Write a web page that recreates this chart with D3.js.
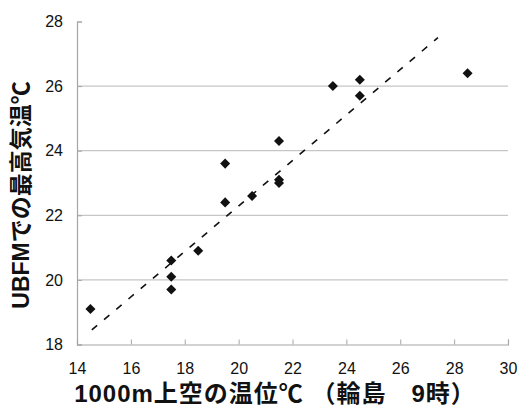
<!DOCTYPE html>
<html>
<head>
<meta charset="utf-8">
<script src="https://cdn.jsdelivr.net/npm/d3@7"></script>
<style>
  body { margin: 0; background: #fff; }
</style>
</head>
<body>
<div id="chart"></div>
<script>
// 1000m上空の温位 (輪島 9時)
const potentialTemp = [14.5, 17.5, 17.5, 17.5, 18.5, 19.5, 19.5, 20.5, 21.5, 21.5, 21.5, 23.5, 24.5, 24.5, 28.5]
// UBFMでの最高気温
const maxTemp = [19.1, 20.6, 20.1, 19.7, 20.9, 23.6, 22.4, 22.6, 24.3, 23.1, 23.0, 26.0, 26.2, 25.7, 26.4]
// 近似直線の端点
const trendX = [14.55, 27.4]
const trendY = [18.45, 27.5]
// 目盛り
const xTicks = [14, 16, 18, 20, 22, 24, 26, 28, 30]
const yTicks = [18, 20, 22, 24, 26, 28]

const width = 518
const height = 412
const margin = { top: 21.5, right: 10, bottom: 67.5, left: 77 }

const svg = d3.select("#chart")
  .append("svg")
  .attr("width", width)
  .attr("height", height)

const x = d3.scaleLinear().domain([14, 30]).range([margin.left, 508])
const y = d3.scaleLinear().domain([18, 28]).range([height - margin.bottom, margin.top])

// グリッド線
svg.append("g")
  .selectAll("line")
  .data(yTicks.filter(d => d > 18 && d < 28))
  .join("line")
  .attr("x1", x(14))
  .attr("x2", x(30))
  .attr("y1", d => y(d))
  .attr("y2", d => y(d))
  .attr("stroke", "#c6c6c6")
  .attr("stroke-width", 1.2)

const tickFont = g => g.selectAll(".tick text")
  .attr("font-family", "'Liberation Sans', Arial, sans-serif")
  .attr("font-size", 16)
  .attr("fill", "#111")

// x軸
const xAxis = d3.axisBottom(x).tickValues(xTicks).tickSize(-5).tickPadding(18)
svg.append("g")
  .attr("transform", `translate(0,${y(18)})`)
  .call(xAxis)
  .call(g => g.select(".domain").attr("stroke", "#a6a6a6").attr("stroke-width", 1.2))
  .call(g => g.selectAll(".tick line").attr("stroke", "#a6a6a6"))
  .call(tickFont)

// y軸
const yAxis = d3.axisLeft(y).tickValues(yTicks).tickSize(-5).tickPadding(14)
svg.append("g")
  .attr("transform", `translate(${x(14)},0)`)
  .call(yAxis)
  .call(g => g.select(".domain").attr("stroke", "#a6a6a6").attr("stroke-width", 1.2))
  .call(g => g.selectAll(".tick line").attr("stroke", "#a6a6a6"))
  .call(tickFont)

// 近似直線
svg.append("line")
  .attr("x1", x(trendX[0]))
  .attr("y1", y(trendY[0]))
  .attr("x2", x(trendX[1]))
  .attr("y2", y(trendY[1]))
  .attr("stroke", "#111")
  .attr("stroke-width", 1.6)
  .attr("stroke-dasharray", "7,9")

// データ点 (ひし形)
const pts = potentialTemp.map((d, i) => ({ x: d, y: maxTemp[i] }))
svg.append("g")
  .selectAll("path")
  .data(pts)
  .join("path")
  .attr("d", d3.symbol(d3.symbolDiamond2, 64))
  .attr("transform", d => `translate(${x(d.x)},${y(d.y)})`)
  .attr("fill", "#111")

// 軸タイトル
svg.append("text")
  .text("1000m上空の温位℃ （輪島　9時）")
  .attr("x", 275)
  .attr("y", 402)
  .attr("text-anchor", "middle")
  .attr("font-family", "'Liberation Sans', 'Noto Sans CJK JP', sans-serif")
  .attr("font-weight", "bold")
  .attr("font-size", 24)
  .attr("letter-spacing", 1)
  .attr("fill", "#111")

svg.append("text")
  .text("UBFMでの最高気温℃")
  .attr("transform", "translate(29,195) rotate(-90)")
  .attr("text-anchor", "middle")
  .attr("font-family", "'Liberation Sans', 'Noto Sans CJK JP', sans-serif")
  .attr("font-weight", "bold")
  .attr("font-size", 23)
  .attr("fill", "#111")
</script>
</body>
</html>
